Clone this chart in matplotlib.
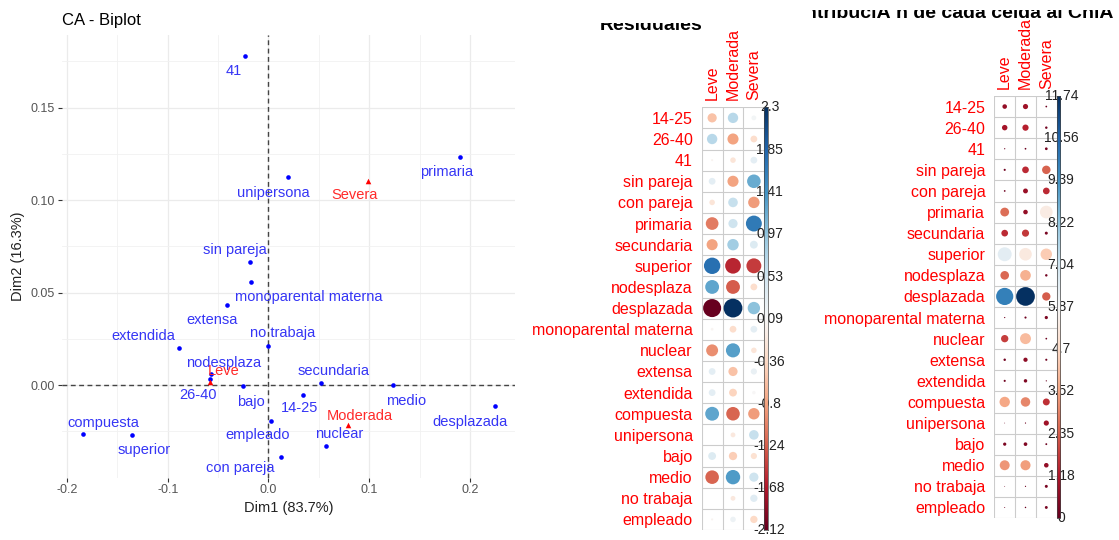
import numpy as np
import matplotlib
matplotlib.use("Agg")
import matplotlib.pyplot as plt
from matplotlib.colors import Normalize
from matplotlib.transforms import Bbox, TransformedBbox

plt.rcParams['font.family'] = ['Liberation Sans', 'DejaVu Sans']

W, H = 1119, 540

# ---- CA biplot data ----
row_names = ['41', 'unipersona', 'primaria', 'sin pareja', 'monoparental materna', 'extensa',
             'extendida', 'no trabaja', 'nodesplaza', '26-40', 'bajo', '14-25', 'secundaria',
             'medio', 'desplazada', 'empleado', 'nuclear', 'compuesta', 'superior', 'con pareja']
row_dim1 = [-0.0229, 0.0192, 0.1900, -0.0181, -0.0171, -0.0414, -0.0890, 0.0000, -0.0568, -0.0582,
            -0.0250, 0.0346, 0.0520, 0.1239, 0.2248, 0.0024, 0.0572, -0.1845, -0.1355, 0.0127]
row_dim2 = [0.1777, 0.1125, 0.1232, 0.0666, 0.0557, 0.0432, 0.0201, 0.0212, 0.0062, 0.0032,
            -0.0007, -0.0055, 0.0009, 0.0002, -0.0114, -0.0196, -0.0329, -0.0265, -0.0270, -0.0390]
col_names = ['Leve', 'Moderada', 'Severa']
col_dim1 = [-0.0582, 0.0787, 0.0992]
col_dim2 = [0.0018, -0.0214, 0.1104]

# label offsets in pixels (dx right, dy up), like ggrepel placed them
label_offset = {
    '41': (-12, -15), 'unipersona': (-14, -16), 'primaria': (-13, -15), 'sin pareja': (-15, 12),
    'monoparental materna': (58, -15), 'extensa': (-15, -15), 'extendida': (-36, 12),
    'no trabaja': (14, 13), 'nodesplaza': (12, 11), '26-40': (-12, -16), 'bajo': (8, -16),
    '14-25': (-4, -13), 'secundaria': (13, 12), 'medio': (13, -16), 'desplazada': (-25, -16),
    'empleado': (-13, -14), 'nuclear': (13, 12), 'compuesta': (21, 11), 'superior': (12, -15),
    'con pareja': (-41, -11),
    'Leve': (14, 11), 'Moderada': (12, 9), 'Severa': (-14, -14),
}

# ---- corrplot data ----
categories = ['14-25', '26-40', '41', 'sin pareja', 'con pareja', 'primaria', 'secundaria',
              'superior', 'nodesplaza', 'desplazada', 'monoparental materna', 'nuclear',
              'extensa', 'extendida', 'compuesta', 'unipersona', 'bajo', 'medio',
              'no trabaja', 'empleado']
resid_leve = [-0.55, 0.7, 0.03, 0.3, -0.2, -1.05, -0.8, 1.75, 1.25, -2.12,
              0.05, -0.93, 0.3, 0.3, 1.25, 0.0, 0.4, -1.2, 0.0, 0.03]
resid_moderada = [0.7, -0.8, -0.2, -0.8, 0.6, 0.55, 0.85, -1.6, -1.25, 2.3,
                  -0.3, 1.3, -0.55, -0.4, -1.2, -0.15, -0.45, 1.35, -0.15, 0.2]
resid_severa = [0.15, -0.3, 0.3, 1.2, -0.85, 1.65, 0.4, -1.45, -0.3, 1.0,
                0.3, -0.2, 0.25, 0.08, -0.85, 0.6, -0.25, 0.55, 0.35, -0.35]
resid_ticks = ['2.3', '1.85', '1.41', '0.97', '0.53', '0.09', '-0.36', '-0.8', '-1.24', '-1.68', '-2.12']

contrib_leve = [0.7, 1.0, 0.05, 0.15, 0.1, 2.6, 1.5, 6.5, 2.5, 9.9,
                0.05, 1.8, 0.2, 0.15, 3.6, 0.02, 0.35, 3.3, 0.02, 0.03]
contrib_moderada = [0.9, 1.3, 0.1, 1.5, 0.8, 0.7, 1.7, 5.3, 3.8, 11.74,
                    0.15, 4.0, 0.6, 0.4, 3.0, 0.05, 0.45, 3.4, 0.05, 0.07]
contrib_severa = [0.1, 0.2, 0.25, 2.4, 1.5, 5.4, 0.3, 4.4, 0.2, 2.3,
                  0.35, 0.1, 0.15, 0.05, 1.6, 0.9, 0.12, 0.7, 0.3, 0.28]
contrib_ticks = ['11.74', '10.56', '9.39', '8.22', '7.04', '5.87', '4.7', '3.52', '2.35', '1.18', '0']

fig = plt.figure(figsize=(W / 100, H / 100), dpi=100)


def px_axes(left, top, right, bottom):
    return fig.add_axes([left / W, 1 - bottom / H, (right - left) / W, (bottom - top) / H])


def clipped_title(text, x, y, ha, clip):
    t = fig.text(x / W, 1 - y / H, text, ha=ha, va='baseline', fontsize=14,
                 fontweight='bold', color='black')
    x0, y0, x1, y1 = clip
    box = Bbox.from_extents(x0 / W, 1 - y1 / H, x1 / W, 1 - y0 / H)
    t.set_clip_box(TransformedBbox(box, fig.transFigure))
    t.set_clip_on(True)


# ================= CA biplot =================
ax = px_axes(62, 35.4, 515.2, 477.5)
ax.set_xlim(-0.205, 0.245)
ax.set_ylim(-0.05, 0.189)
ax.set_xticks([-0.2, -0.1, 0.0, 0.1, 0.2], ['-0.2', '-0.1', '0.0', '0.1', '0.2'])
ax.set_xticks([-0.15, -0.05, 0.05, 0.15], minor=True)
ax.set_yticks([0.0, 0.05, 0.10, 0.15], ['0.00', '0.05', '0.10', '0.15'])
ax.set_yticks([-0.025, 0.025, 0.075, 0.125, 0.175], minor=True)
ax.grid(which='major', color='#ebebeb', lw=0.9)
ax.grid(which='minor', color='#f1f1f1', lw=0.6)
ax.set_axisbelow(True)
ax.tick_params(which='major', length=3, width=0.8, color='#333333', labelsize=9,
               labelcolor='#555555', pad=2)
ax.tick_params(which='minor', length=0)
for s in ax.spines.values():
    s.set_visible(False)
ax.axhline(0, color='#444444', lw=1.0, dashes=(3.5, 2.5), zorder=1)
ax.axvline(0, color='#444444', lw=1.0, dashes=(3.5, 2.5), zorder=1)
ax.scatter(row_dim1, row_dim2, s=11, color='blue', zorder=3, linewidths=0)
ax.scatter(col_dim1, col_dim2, s=16, marker='^', color='red', zorder=3, linewidths=0)
for name, x, y in zip(row_names, row_dim1, row_dim2):
    dx, dy = label_offset[name]
    ax.annotate(name, (x, y), xytext=(dx, dy), textcoords='offset pixels', ha='center',
                va='center', fontsize=10.5, color='#3535f5', zorder=4)
for name, x, y in zip(col_names, col_dim1, col_dim2):
    dx, dy = label_offset[name]
    ax.annotate(name, (x, y), xytext=(dx, dy), textcoords='offset pixels', ha='center',
                va='center', fontsize=10.5, color='#ff2a2a', zorder=4)
fig.text(62 / W, 1 - 20 / H, 'CA - Biplot', fontsize=12, va='center', ha='left', color='black')
fig.text(288.6 / W, 1 - 508 / H, 'Dim1 (83.7%)', fontsize=10.5, ha='center', va='center',
         color='#222222')
fig.text(18 / W, 1 - 256 / H, 'Dim2 (16.3%)', fontsize=10.5, ha='center', va='center',
         rotation=90, color='#222222')


# ================= corrplots =================
def corrplot(left, top, right, bottom, columns, tick_labels, label_dx):
    data = np.column_stack(columns)
    vmin, vmax = float(tick_labels[-1]), float(tick_labels[0])
    norm = Normalize(vmin, vmax)
    cmap = plt.get_cmap('RdBu')
    cell = (right - left) / 3
    ax = px_axes(left, top, right, bottom)
    ax.set_xlim(0, 3)
    ax.set_ylim(len(categories), 0)
    ax.patch.set_visible(False)
    for k in range(4):
        ax.axvline(k, color='#cccccc', lw=0.8, zorder=1)
    for k in range(len(categories) + 1):
        ax.axhline(k, color='#cccccc', lw=0.8, zorder=1)
    amax = np.abs(data).max()
    jj, ii = np.meshgrid(np.arange(3), np.arange(len(categories)))
    vals = data.ravel()
    diam = 0.9 * cell * np.sqrt(np.abs(vals) / amax)
    ax.scatter(jj.ravel() + 0.5, ii.ravel() + 0.5, s=(diam * 0.72) ** 2,
               c=cmap(norm(vals)), linewidths=0, zorder=2)
    ax.set_yticks(np.arange(len(categories)) + 0.5, categories)
    ax.xaxis.tick_top()
    ax.set_xticks(np.arange(3) + 0.5, col_names, rotation=90)
    ax.tick_params(axis='y', length=0, pad=6.5, labelsize=11.5, labelcolor='red')
    ax.tick_params(axis='x', length=0, pad=5, labelsize=11.5, labelcolor='red')
    for s in ax.spines.values():
        s.set_visible(False)

    cb = px_axes(right, top, right + 3.5, bottom)
    grad = np.linspace(vmin, vmax, 256).reshape(-1, 1)
    cb.imshow(grad, cmap=cmap, norm=norm, origin='lower', aspect='auto',
              extent=[0, 1, vmin, vmax], zorder=2)
    cb.set_xlim(0, 1)
    cb.set_ylim(vmin, vmax)
    cb.set_xticks([])
    cb.set_yticks([])
    cb.patch.set_visible(False)
    for s in cb.spines.values():
        s.set_color('#444444')
        s.set_linewidth(0.5)
    for lab in tick_labels:
        cb.text(label_dx, float(lab), lab, transform=cb.get_yaxis_transform(), ha='center',
                va='center', fontsize=10, color='#222222', zorder=1, clip_on=False)


corrplot(701.7, 107.3, 764.3, 530, [resid_leve, resid_moderada, resid_severa], resid_ticks, 1.5)
corrplot(994.3, 96, 1056.7, 518, [contrib_leve, contrib_moderada, contrib_severa], contrib_ticks, 1.3)

clipped_title('Residuales', 651.5, 30.5, 'center', (520, 22.5, 800, 60))
clipped_title('ContribuciÃ n de cada celda al ChiÂ', 1113, 18.5, 'right', (812, 10, 1119, 60))

fig.savefig('out.png', dpi=100, facecolor='white')
